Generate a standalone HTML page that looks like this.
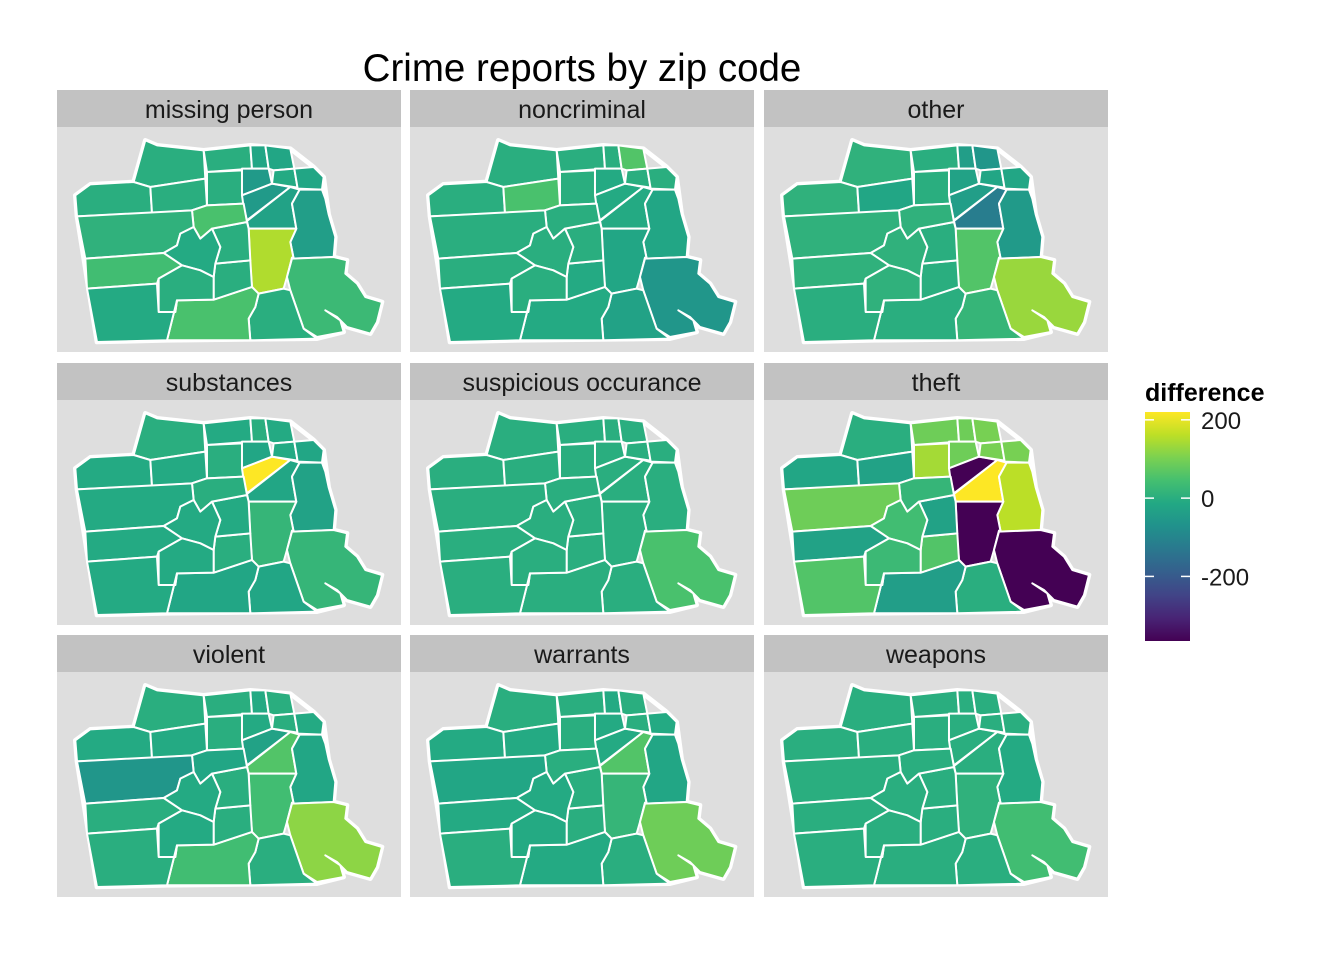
<!DOCTYPE html>
<html><head><meta charset="utf-8"><style>
body{margin:0;background:#fff;}
svg text{font-family:"Liberation Sans",Arial,sans-serif;}
</style></head><body>
<svg id="chart" width="1344" height="960" viewBox="0 0 1344 960">
<rect width="1344" height="960" fill="#fff"/>
<text x="582" y="81" text-anchor="middle" font-size="38.5" fill="#000">Crime reports by zip code</text>
<g id="panels"></g>
<g id="legend"></g>
</svg>
<script>
const categories = ["missing person","noncriminal","other","substances","suspicious occurance","theft","violent","warrants","weapons"];
const zoneIds = ["Z1","Z2","Z3","Z4","Z5","Z6a","Z6b","Z7","Z8","Z9","Z10","Z11","Z12","Z13","Z14","Z15","Z16","Z17","Z18","Z19","Z20","Z21","Z22","Z23","Z24"];
const valMissing    = [0,0,0,0,0,-20,-50,-50,-20,-10,-20,-30,-40,150,30,0,50,0,0,50,10,-10,40,0,-10];
const valNoncrim    = [0,0,50,0,0,0,-10,-10,60,0,0,-10,-20,-20,-60,-30,-10,-10,0,0,0,0,0,0,-10];
const valOther      = [10,10,-20,0,0,-40,-30,-40,-60,-20,-20,-120,-50,60,130,20,0,0,0,10,10,10,10,10,0];
const valSubst      = [0,-10,-10,-10,0,0,-20,220,-10,-10,-20,-20,-30,20,20,-20,-20,0,-10,0,-10,-10,-10,-10,-10];
const valSuspicious = [0,0,0,0,0,0,0,0,0,0,0,0,0,0,50,0,0,0,0,0,0,0,0,0,0];
const valTheft      = [0,-20,-30,90,140,90,90,-365,100,100,100,220,160,-365,-365,0,-40,60,-30,20,90,40,-30,30,60];
const valViolent    = [0,-10,-10,0,0,-10,-10,-30,0,0,-10,60,-20,40,120,0,40,0,0,-20,-60,-10,0,-10,0];
const valWarrants   = [0,-10,-10,0,0,-10,-10,-10,0,0,-10,60,-20,20,90,0,-10,0,0,0,-20,-10,-10,-10,0];
const valWeapons    = [0,0,0,0,0,0,0,0,0,0,0,0,-10,10,40,0,0,0,0,0,0,0,0,0,0];
const seriesValues = [valMissing,valNoncrim,valOther,valSubst,valSuspicious,valTheft,valViolent,valWarrants,valWeapons];
const legendTicks = [200,0,-200];
const legendTickLabels = ["200","0","-200"];
const domainMin = -365, domainMax = 220;

const zoneShapes = {
Z1:[[265,40],[300,55],[440,70],[445,155],[280,180],[230,165]],
Z2:[[55,205],[100,172],[230,165],[280,180],[285,258],[60,268]],
Z3:[[280,180],[445,155],[450,235],[405,250],[285,258]],
Z4:[[440,70],[580,55],[585,125],[450,135]],
Z5:[[450,135],[555,130],[560,230],[450,235]],
Z6a:[[580,55],[625,55],[635,125],[585,125]],
Z6b:[[555,125],[635,125],[645,170],[555,205]],
Z7:[[555,205],[645,170],[700,180],[570,280],[560,240]],
Z8:[[625,55],[700,65],[712,125],[650,130],[635,125]],
Z9:[[650,130],[712,125],[722,182],[645,170]],
Z10:[[712,125],[770,120],[800,150],[795,188],[722,185]],
Z11:[[570,282],[700,180],[728,188],[705,230],[718,305],[575,305]],
Z12:[[728,188],[795,188],[805,215],[815,262],[835,330],[830,390],[710,395],[700,345],[718,305],[705,230]],
Z13:[[575,305],[718,305],[700,345],[710,395],[705,392],[690,450],[680,485],[605,500],[585,480],[580,420]],
Z14:[[705,395],[830,390],[870,400],[865,440],[900,470],[925,510],[975,525],[960,585],[940,620],[870,600],[840,570],[805,550],[850,580],[860,615],[780,630],[740,605],[700,490],[690,450]],
Z15:[[605,500],[680,485],[700,490],[740,605],[780,635],[580,640],[575,575],[595,540]],
Z16:[[360,520],[470,518],[585,480],[605,500],[595,540],[575,575],[580,640],[330,640]],
Z17:[[475,410],[580,400],[585,480],[470,518],[470,450]],
Z18:[[465,305],[570,285],[575,305],[580,400],[475,410],[490,360]],
Z19:[[405,250],[450,235],[560,230],[570,285],[465,305],[430,335],[410,300]],
Z20:[[60,268],[405,250],[410,300],[370,320],[360,355],[320,378],[85,395]],
Z21:[[320,378],[360,355],[370,320],[410,300],[430,335],[465,305],[490,360],[475,410],[470,450],[430,430],[375,415]],
Z22:[[85,395],[320,378],[375,415],[305,455],[300,470],[90,485]],
Z23:[[305,455],[375,415],[430,430],[470,450],[470,518],[360,520],[355,555],[305,555]],
Z24:[[90,485],[300,470],[305,555],[355,555],[360,520],[330,640],[120,645]]
};
const viridis = ["#440154","#482475","#414487","#355f8d","#2a788e","#21918c","#22a884","#44bf70","#7ad151","#bddf26","#fde725"];
function hexToRgb(h){return [1,3,5].map(i=>parseInt(h.substr(i,2),16));}
function colorScale(v){
  let t=(v-domainMin)/(domainMax-domainMin); t=Math.max(0,Math.min(1,t));
  const p=t*(viridis.length-1), i=Math.min(Math.floor(p),viridis.length-2), f=p-i;
  const a=hexToRgb(viridis[i]), b=hexToRgb(viridis[i+1]);
  return "rgb("+a.map((x,k)=>Math.round(x+(b[k]-x)*f)).join(",")+")";
}
const NS="http://www.w3.org/2000/svg";
const panelsG=document.getElementById("panels");
const colX=[57,410,764], rowY=[90,363,635], pw=344, stripH=37, ph=225;
function mk(tag,attrs,parent){const e=document.createElementNS(NS,tag);for(const k in attrs)e.setAttribute(k,attrs[k]);parent.appendChild(e);return e;}
const outline=[[55,205],[100,172],[230,165],[265,40],[300,55],[440,70],[580,55],[700,65],[770,120],[800,150],[815,262],[835,330],[830,390],[870,400],[865,440],[900,470],[925,510],[975,525],[960,585],[940,620],[870,600],[840,570],[805,550],[850,580],[860,615],[780,635],[330,640],[120,645],[60,268]];
categories.forEach((cat,ci)=>{
  const x=colX[ci%3], y=rowY[Math.floor(ci/3)];
  const g=mk("g",{},panelsG);
  
  
  const strip=mk("rect",{x:x,y:y,width:pw,height:stripH,fill:"#c2c2c2"},g);
  
  
  const st=mk("text",{x:x+pw/2,y:y+28,"text-anchor":"middle","font-size":"25",fill:"#1a1a1a"},g);
  st.textContent=cat;
  
  
  const bg=mk("rect",{x:x,y:y+stripH,width:pw,height:ph,fill:"#dedede"},g);
  
  
  const mg=mk("g",{transform:"translate("+x+","+(y+stripH)+") scale(0.3333)"},g);
  const ol=mk("polygon",{points:outline.map(p=>p.join(",")).join(" "),fill:"none",stroke:"#fff","stroke-width":"14","stroke-linejoin":"round"},mg);
  
  
  zoneIds.forEach((z,zi)=>{
    const v=seriesValues[ci][zi];
    const p=mk("polygon",{points:zoneShapes[z].map(q=>q.join(",")).join(" "),fill:colorScale(v),stroke:"#fff","stroke-width":"6","stroke-linejoin":"round"},mg);
    
    
  });
});
const lg=document.getElementById("legend");
const lt=mk("text",{x:1145,y:401,"font-size":"25","font-weight":"bold",fill:"#000"},lg);
lt.textContent="difference";


const defs=mk("defs",{},lg);
const grad=mk("linearGradient",{id:"vg",x1:"0",y1:"1",x2:"0",y2:"0"},defs);
viridis.forEach((c,i)=>mk("stop",{offset:(i/(viridis.length-1)),"stop-color":c},grad));
const barTop=412, barBot=641, barX=1145, barW=45;
function ly(v){return barBot-(v-domainMin)/(domainMax-domainMin)*(barBot-barTop);}
const bar=mk("rect",{x:barX,y:barTop,width:barW,height:barBot-barTop,fill:"url(#vg)"},lg);


legendTicks.forEach((t,i)=>{
  const yy=ly(t);
  mk("line",{x1:barX,x2:barX+9,y1:yy,y2:yy,stroke:"#fff","stroke-width":"1.5"},lg);
  mk("line",{x1:barX+barW-9,x2:barX+barW,y1:yy,y2:yy,stroke:"#fff","stroke-width":"1.5"},lg);
  const tx=mk("text",{x:1201,y:yy+9,"font-size":"24",fill:"#1a1a1a"},lg);
  tx.textContent=legendTickLabels[i];
  
  
});
</script>
</body></html>
